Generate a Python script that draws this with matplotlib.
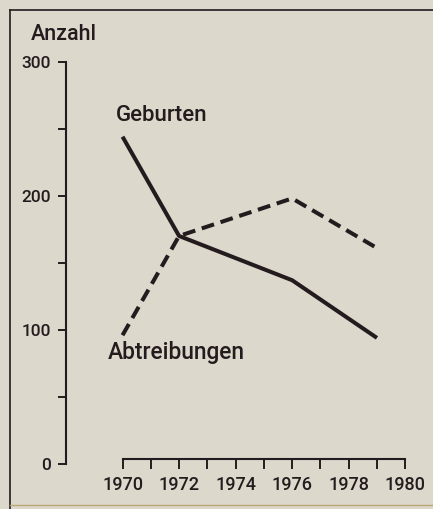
import matplotlib
matplotlib.use("Agg")
import matplotlib.pyplot as plt
from matplotlib.lines import Line2D
from matplotlib.ticker import FixedLocator

# Daten
years = [1970, 1972, 1976, 1979]
geburten = [244, 170, 137, 94]
abtreibungen = [96, 170, 198, 161]

x_major = [1970, 1972, 1974, 1976, 1978, 1980]
x_minor = [1971, 1973, 1975, 1977, 1979]
y_major = [0, 100, 200, 300]
y_minor = [50, 150, 250]

INK = "#231b1d"
PAPER = "#dcd8cc"

plt.rcParams.update({
    "font.family": ["Roboto", "Liberation Sans", "DejaVu Sans"],
    "font.weight": "medium",
    "text.color": INK,
    "axes.edgecolor": INK,
    "xtick.color": INK,
    "ytick.color": INK,
})

W, H = 433, 509
fig = plt.figure(figsize=(W / 100, H / 100), dpi=100, facecolor=PAPER)

# Rahmen der Abbildung
fig.add_artist(Line2D([9.5 / W, 9.5 / W], [0, 1 - 10 / H], color=INK, lw=1.2))
fig.add_artist(Line2D([9.5 / W, 1], [1 - 10 / H, 1 - 10 / H], color=INK, lw=1.2))
fig.add_artist(Line2D([9.5 / W, 1], [4 / H, 4 / H], color="#b8a878", lw=1.0))

ax = fig.add_axes([66 / W, 45 / H, (425 - 66) / W, (464 - 20) / H])
ax.set_facecolor("none")
ax.set_xlim(1968, 1980.7)
ax.set_ylim(0, 331)

ax.plot(years, geburten, color=INK, lw=2.9, solid_capstyle="butt")
ax.plot(years, abtreibungen, color=INK, lw=2.9, dashes=(3.2, 1.7))

for s in ["top", "right"]:
    ax.spines[s].set_visible(False)
ax.spines["left"].set_bounds(0, 300)
ax.spines["left"].set_linewidth(1.5)
ax.spines["bottom"].set_position(("data", 3.5))
ax.spines["bottom"].set_bounds(1970, 1980)
ax.spines["bottom"].set_linewidth(1.5)

ax.set_xticks(x_major)
ax.set_xticklabels([str(x) for x in x_major])
ax.xaxis.set_minor_locator(FixedLocator(x_minor))
ax.set_yticks(y_major)
ax.set_yticklabels([str(y) for y in y_major])
ax.yaxis.set_minor_locator(FixedLocator(y_minor))
ax.tick_params(which="both", direction="out", width=1.4)
ax.tick_params(axis="y", which="both", length=6, labelsize=12.5, pad=5)
ax.tick_params(axis="x", which="both", length=7, labelsize=13, pad=5)

ax.text(1969.75, 260, "Geburten", fontsize=16, va="center", ha="left")
ax.text(1969.47, 83, "Abtreibungen", fontsize=16.4, va="center", ha="left")
fig.text(31 / W, 1 - 35 / H, "Anzahl", fontsize=15.5, va="center", ha="left")

fig.savefig("out.png", dpi=100, facecolor=PAPER)
